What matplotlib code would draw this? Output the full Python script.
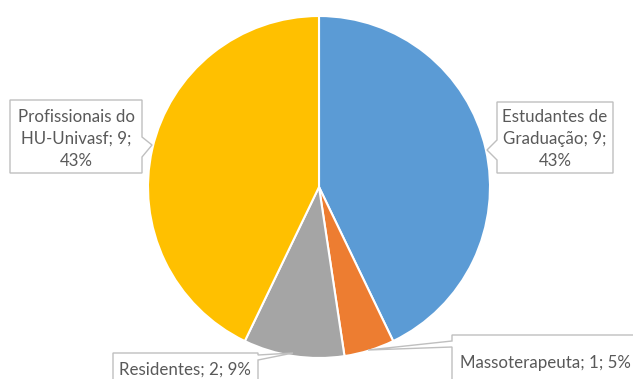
import matplotlib
matplotlib.use('Agg')
import matplotlib.pyplot as plt
from matplotlib.patches import Polygon

categorias = ['Estudantes de Graduação', 'Massoterapeuta', 'Residentes', 'Profissionais do HU-Univasf']
valores = [9, 1, 2, 9]
percentuais = [43, 5, 9, 43]
cores = ['#5B9BD5', '#ED7D31', '#A5A5A5', '#FFC000']

W, H = 633, 379
fig = plt.figure(figsize=(W / 100, H / 100), dpi=100)
ax = fig.add_axes([0, 0, 1, 1])

ax.pie(valores, colors=cores, startangle=90, counterclock=False,
       center=(319, H - 187), radius=171,
       wedgeprops=dict(edgecolor='white', linewidth=1.5))

ax.set_xlim(0, W)
ax.set_ylim(0, H)
ax.set_aspect('equal')
ax.axis('off')

textos = [
    f"Estudantes de\nGraduação; {valores[0]};\n{percentuais[0]}%",
    f"{categorias[1]}; {valores[1]}; {percentuais[1]}%",
    f"{categorias[2]}; {valores[2]}; {percentuais[2]}%",
    f"Profissionais do\nHU-Univasf; {valores[3]};\n{percentuais[3]}%",
]

# caixas (coordenadas de imagem, y para baixo): contorno com ponteiro
def callout(pts, tx, ty, s):
    poly = Polygon([(x, H - y) for x, y in pts], closed=True,
                   facecolor='white', edgecolor='#BFBFBF', linewidth=1.0, zorder=5)
    ax.add_patch(poly)
    ax.text(tx, H - ty, s, ha='center', va='center', color='#595959',
            fontsize=12.2, family='Lato', linespacing=1.5, zorder=6)

# Estudantes
callout([(497, 102), (613, 102), (613, 173), (497, 173), (497, 160), (487, 150), (497, 140)],
        555, 139, textos[0])
# Massoterapeuta
callout([(452, 335), (640, 335), (640, 390), (452, 390), (452, 347), (368, 350), (452, 341)],
        545, 363, textos[1])
# Residentes
callout([(113, 353), (258, 353), (258, 355), (293, 353), (258, 360), (258, 390), (113, 390)],
        185, 370, textos[2])
# Profissionais
callout([(10, 100), (142, 100), (142, 137), (152, 145), (142, 157), (142, 173), (10, 173)],
        76, 139, textos[3])

fig.savefig('out.png', dpi=100)
